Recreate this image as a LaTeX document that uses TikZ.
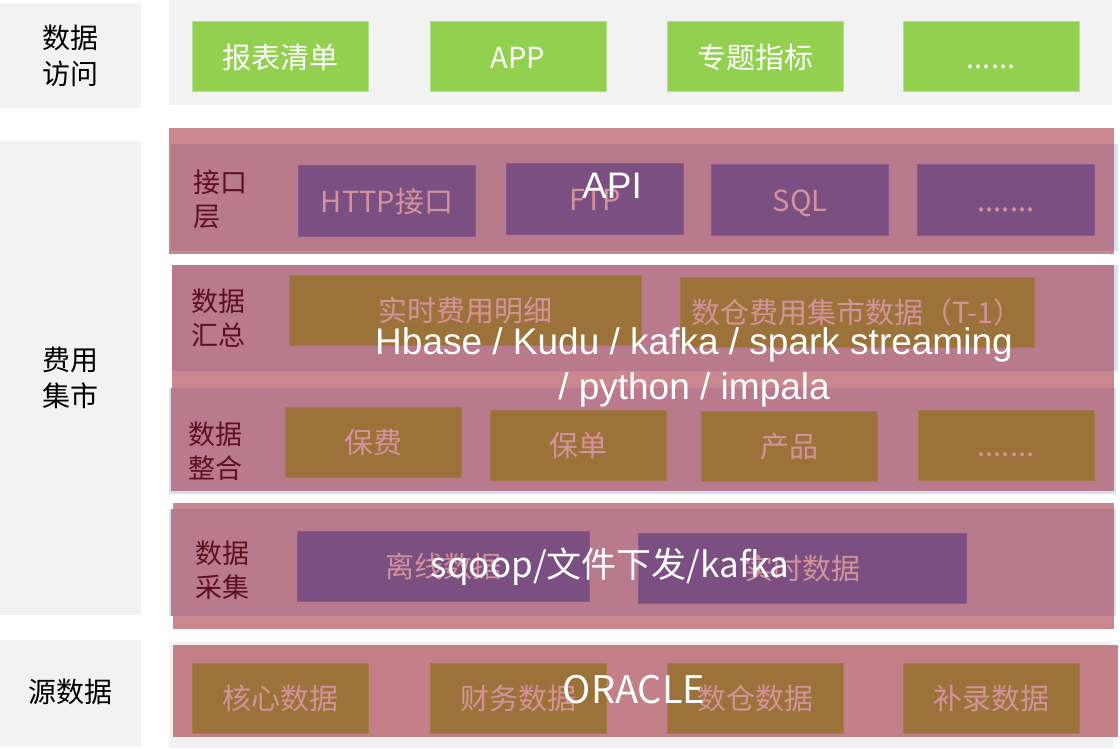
\documentclass[tikz,border=0pt]{standalone}
\usepackage{fontspec}
\setmainfont{Noto Sans CJK SC}
\newfontfamily\arialfont{Liberation Sans}
\newcommand\boxfont{\fontsize{29}{34}\selectfont}
\newcommand\sidefont{\fontsize{28}{36}\selectfont}
\newcommand\layerfont{\fontsize{27}{34}\selectfont}
\newcommand\techfont{\fontsize{37}{45}\selectfont}
\newcommand\feedfont{\fontsize{35}{42}\selectfont}
\definecolor{greyband}{HTML}{F2F2F2}
\definecolor{appgreen}{HTML}{92D050}
\definecolor{greenedge}{HTML}{B5E08F}
\definecolor{bandpink}{HTML}{CB878F}
\definecolor{bandmauve}{HTML}{B87A8C}
\definecolor{srcpink}{HTML}{C48088}
\definecolor{apipurple}{HTML}{7B4F82}
\definecolor{purpleedge}{HTML}{86598C}
\definecolor{dwbrown}{HTML}{9B733A}
\definecolor{brownedge}{HTML}{A27B45}
\definecolor{softpink}{HTML}{D4929B}
\definecolor{labelred}{HTML}{5C1020}
\definecolor{edgeblue}{HTML}{D5E1F4}
\tikzset{
  cell/.style={inner sep=0pt,line width=1pt,minimum height=70pt,font=\boxfont,text height=26pt,text depth=3pt},
  greenbox/.style={cell,fill=appgreen,draw=greenedge,minimum width=176pt,text=white},
  purplebox/.style={cell,fill=apipurple,draw=purpleedge,minimum width=177pt,text=softpink},
  brownbox/.style={cell,fill=dwbrown,draw=brownedge,minimum width=176pt,text=softpink},
  sidelabel/.style={font=\sidefont,align=center,text=black,inner sep=0pt},
  layerlabel/.style={font=\layerfont,align=left,text=labelred,inner sep=0pt,anchor=west},
  techtext/.style={font=\arialfont\techfont,align=center,text=white,inner sep=0pt}
}
\begin{document}
\begin{tikzpicture}[x=1pt,y=-1pt]
  \useasboundingbox (0,0) rectangle (1120,749);
  \fill[greyband] (0,3) rectangle (141,108);
  \fill[greyband] (0,141) rectangle (141,615);
  \fill[greyband] (0,640) rectangle (141,746);
  \node[sidelabel] (accessside) at (70,56) {数据\\访问};
  \node[sidelabel] (martside) at (70,378) {费用\\集市};
  \node[sidelabel] (sourceside) at (70,692) {源数据};

  \fill[greyband] (169,0) rectangle (1112,105);
  \node[greenbox] (report) at (280,57) {报表清单};
  \node[greenbox] (app) at (518,57) {APP};
  \node[greenbox] (topic) at (755,57) {专题指标};
  \node[greenbox] (moreapp) at (991,57) {......};

  \fill[bandpink] (169,128) rectangle (1114,254);
  \fill[bandmauve] (171,144) rectangle (1114,251);
  \fill[edgeblue] (1114,144) rectangle (1118,251);
  \node[layerlabel] (apilayer) at (193,199) {接口\\层};
  \node[purplebox] (http) at (387,201) {HTTP接口};
  \node[purplebox] (ftp) at (595,199) {FTP};
  \node[purplebox] (sql) at (800,200) {SQL};
  \node[purplebox] (moreapi) at (1006,200) {.......};
  \node[techtext] (api) at (612,186) {API};

  \fill[bandpink] (172,265) rectangle (1114,388);
  \fill[bandmauve] (172,265) rectangle (1114,371);
  \fill[edgeblue] (1114,265) rectangle (1118,371);
  \fill[edgeblue] (169,388) rectangle (1116,494);
  \fill[bandmauve] (171,388) rectangle (1114,491);
  \node[layerlabel] (sumlayer) at (191,318) {数据\\汇总};
  \node[brownbox,minimum width=352pt] (realtime) at (465,310) {实时费用明细};
  \node[brownbox,minimum width=354pt] (dwmart) at (857,312) {数仓费用集市数据（T-1）};
  \node[layerlabel] (joinlayer) at (188,451) {数据\\整合};
  \node[brownbox] (premium) at (373,442) {保费};
  \node[brownbox] (policy) at (578,445) {保单};
  \node[brownbox] (product) at (789,446) {产品};
  \node[brownbox] (morejoin) at (1006,445) {.......};
  \node[techtext] (stack) at (694,367) {Hbase / Kudu / kafka / spark streaming\\/ python / impala};

  \fill[bandpink] (173,503) rectangle (1114,629);
  \fill[edgeblue] (169,509) rectangle (1116,616);
  \fill[bandmauve] (171,509) rectangle (1114,616);
  \node[layerlabel] (gatherlayer) at (195,570) {数据\\采集};
  \node[purplebox,minimum width=292pt] (offline) at (443,566) {离线数据};
  \node[purplebox,minimum width=328pt] (online) at (802,568) {实时数据};
  \node[techtext,font=\feedfont] (sqoop) at (610,567) {sqoop/文件下发/kafka};

  \fill[greyband] (169,642) rectangle (1114,748);
  \fill[srcpink] (173,645) rectangle (1118,737);
  \node[brownbox] (core) at (280,698) {核心数据};
  \node[brownbox] (finance) at (518,698) {财务数据};
  \node[brownbox] (dwsource) at (755,698) {数仓数据};
  \node[brownbox] (manual) at (991,698) {补录数据};
  \node[techtext,font=\fontsize{38}{45}\selectfont] (oracle) at (634,690) {ORACLE};
\end{tikzpicture}
\end{document}
